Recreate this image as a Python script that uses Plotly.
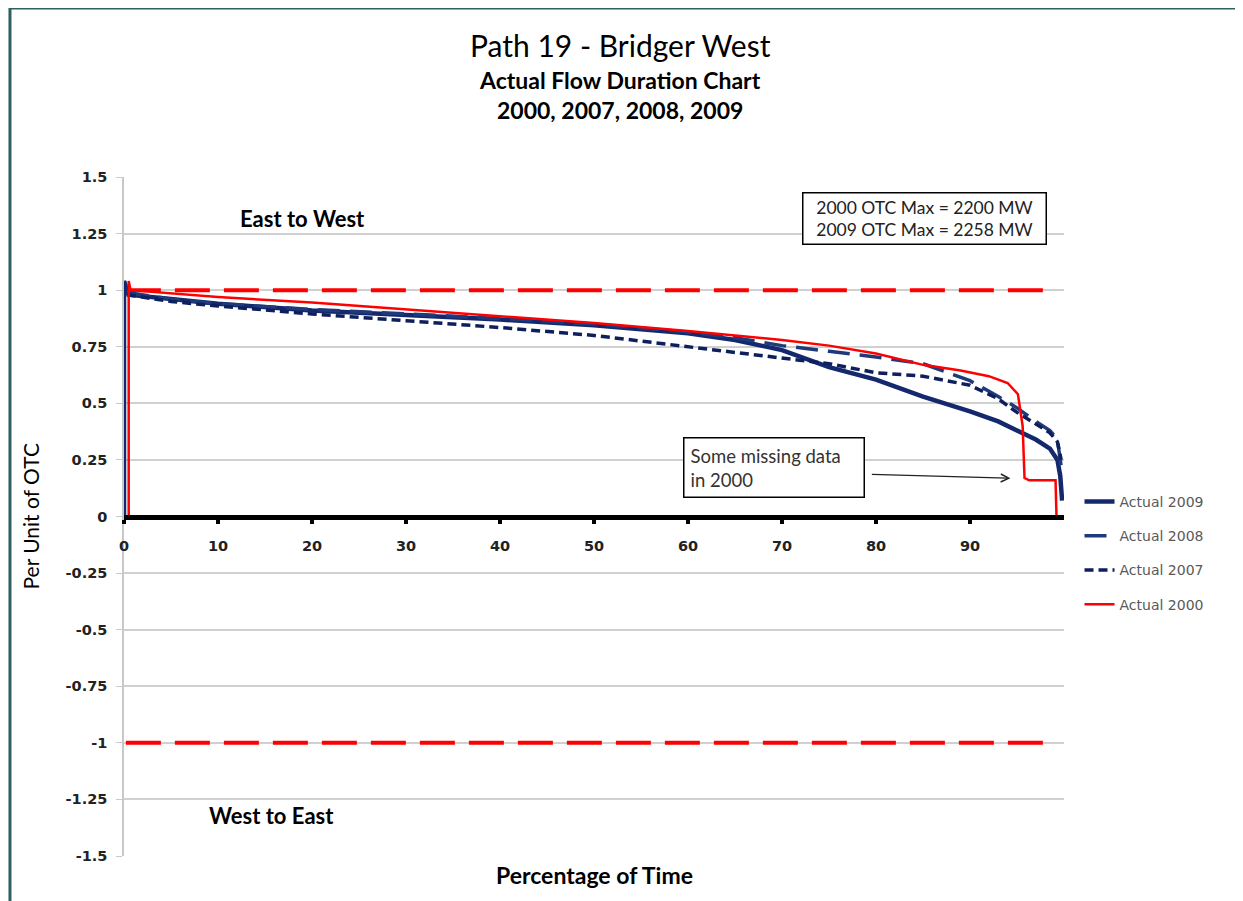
import plotly.graph_objects as go

# percentage of time vs per unit of OTC
x_2009 = [0, 0, 0.5, 5, 10, 20, 30, 40, 50, 60, 65, 70, 75, 80, 85, 90, 93, 95, 97, 98.5, 99.3, 99.6, 99.8]
y_2009 = [0, 1.04, 0.98, 0.96, 0.94, 0.91, 0.89, 0.87, 0.845, 0.81, 0.78, 0.735, 0.66, 0.605, 0.53, 0.465,
          0.42, 0.38, 0.34, 0.30, 0.25, 0.18, 0.07]

x_2008 = [0.3, 5, 10, 20, 30, 40, 50, 60, 65, 70, 75, 80, 85, 90, 93, 95, 97, 98.5, 99.3, 99.7]
y_2008 = [0.99, 0.96, 0.94, 0.915, 0.895, 0.875, 0.85, 0.815, 0.79, 0.755, 0.73, 0.705, 0.675, 0.60,
          0.53, 0.48, 0.42, 0.38, 0.34, 0.22]

x_2007 = [0.3, 5, 10, 20, 30, 40, 50, 60, 65, 70, 75, 80, 85, 90, 93, 95, 97, 98.5, 99.3, 99.7]
y_2007 = [0.98, 0.95, 0.93, 0.895, 0.865, 0.835, 0.80, 0.75, 0.725, 0.70, 0.675, 0.635, 0.62, 0.58,
          0.52, 0.46, 0.41, 0.37, 0.33, 0.25]

x_2000 = [0.5, 0.5, 0.7, 5, 10, 20, 30, 40, 50, 60, 65, 70, 75, 80, 85, 89, 92, 94, 95.1, 95.6,
          95.8, 96.3, 99.1, 99.2]
y_2000 = [0, 1.04, 1.0, 0.985, 0.97, 0.945, 0.915, 0.885, 0.855, 0.82, 0.80, 0.78, 0.755, 0.72, 0.67,
          0.645, 0.62, 0.59, 0.54, 0.40, 0.17, 0.16, 0.16, 0]

limit_x = [0.2, 98]
otc_limits = [1, -1]

y_ticks = [1.5, 1.25, 1, 0.75, 0.5, 0.25, 0, -0.25, -0.5, -0.75, -1, -1.25, -1.5]
y_labels = ["1.5", "1.25", "1", "0.75", "0.5", "0.25", "0", "-0.25", "-0.5", "-0.75", "-1", "-1.25", "-1.5"]
x_ticks = [0, 10, 20, 30, 40, 50, 60, 70, 80, 90]

navy = "#14286E"
red = "#FF0000"
txt = "Lato"
tick_font = dict(family="DejaVu Sans", size=14.5, color="#222", weight="bold")

fig = go.Figure()

# +/- 1 OTC limit lines
for lim in otc_limits:
    fig.add_trace(go.Scatter(x=limit_x, y=[lim, lim], mode="lines", showlegend=False,
                             line=dict(color=red, width=4, dash="35px,14px"), hoverinfo="skip"))

fig.add_trace(go.Scatter(x=x_2009, y=y_2009, mode="lines", name="Actual 2009", legendgroup="a",
                         line=dict(color=navy, width=4.5)))
fig.add_trace(go.Scatter(x=x_2008, y=y_2008, mode="lines", name="Actual 2008", legendgroup="b",
                         line=dict(color="#1F3A7A", width=3.5, dash="22px,10px")))
fig.add_trace(go.Scatter(x=x_2007, y=y_2007, mode="lines", name="Actual 2007", legendgroup="c",
                         line=dict(color="#0D1F5C", width=3.5, dash="9px,5px")))
fig.add_trace(go.Scatter(x=x_2000, y=y_2000, mode="lines", name="Actual 2000", legendgroup="d",
                         line=dict(color=red, width=2.5)))

fig.update_layout(
    width=1235, height=893,
    margin=dict(l=116, r=179, t=169, b=45),
    paper_bgcolor="white", plot_bgcolor="white",
    xaxis=dict(range=[0, 100], tickvals=x_ticks, anchor="free", position=0.5,
               showgrid=False, zeroline=False, showline=True, linecolor="black", linewidth=5,
               ticks="outside", ticklen=4, tickwidth=4, tickcolor="black",
               ticklabelstandoff=10, tickfont=tick_font),
    yaxis=dict(range=[-1.5, 1.5], domain=[0, 1], tickvals=y_ticks, ticktext=y_labels,
               showgrid=True, gridcolor="#D0D0D0", gridwidth=1.5, zeroline=False,
               showline=True, linecolor="#C8C8C8", linewidth=1.5,
               ticks="outside", ticklen=6, tickcolor="#C8C8C8",
               ticklabelstandoff=6, tickfont=tick_font),
    legend=dict(x=1.0165, y=0.545, xanchor="left", yanchor="top", tracegroupgap=13,
                font=dict(family="DejaVu Sans", size=14, color="#595959"), bgcolor="rgba(0,0,0,0)"),
    showlegend=True,
)

# titles
fig.add_annotation(text="Path 19 - Bridger West", xref="paper", yref="paper", x=0.528, y=1.194,
                   yanchor="middle", showarrow=False, font=dict(family=txt, size=30, color="black"))
fig.add_annotation(text="<b>Actual Flow Duration Chart</b>", xref="paper", yref="paper", x=0.528, y=1.143,
                   yanchor="middle", showarrow=False, font=dict(family=txt, size=23, color="black"))
fig.add_annotation(text="<b>2000, 2007, 2008, 2009</b>", xref="paper", yref="paper", x=0.528, y=1.099,
                   yanchor="middle", showarrow=False, font=dict(family=txt, size=23, color="black"))

# axis titles
fig.add_annotation(text="Per Unit of OTC", xref="paper", yref="paper", x=-0.1, y=0.5,
                   xanchor="center", yanchor="middle", textangle=-90, showarrow=False,
                   font=dict(family=txt, size=21, color="black"))
fig.add_annotation(text="<b>Percentage of Time</b>", xref="paper", yref="paper", x=0.5, y=-0.028,
                   yanchor="middle", showarrow=False, font=dict(family=txt, size=23, color="black"))

# direction labels
fig.add_annotation(text="<b>East to West</b>", x=19.0, y=1.318, showarrow=False,
                   font=dict(family=txt, size=22, color="black"))
fig.add_annotation(text="<b>West to East</b>", x=15.7, y=-1.323, showarrow=False,
                   font=dict(family=txt, size=22, color="black"))

# text boxes
fig.add_annotation(text="2000 OTC Max = 2200 MW<br>2009 OTC Max = 2258 MW", x=85.2, y=1.318,
                   showarrow=False, align="center", bordercolor="black", borderwidth=1.5, borderpad=3,
                   bgcolor="white", width=236, font=dict(family=txt, size=17.5, color="#222"))
fig.add_annotation(text="Some missing data<br>in 2000", x=69.2, y=0.2175,
                   showarrow=False, align="left", bordercolor="black", borderwidth=1.5, borderpad=6,
                   bgcolor="white", width=167, font=dict(family=txt, size=18.5, color="#333"))
fig.add_annotation(x=94.3, y=0.169, ax=79.4, ay=0.186, axref="x", ayref="y", text="",
                   showarrow=True, arrowhead=5, arrowsize=1.3, arrowwidth=1.2, arrowcolor="#222")

# outer frame
fig.add_shape(type="rect", xref="paper", yref="paper", x0=-0.1213, x1=1.187, y0=-0.1, y1=1.249,
              line=dict(color="#2E5F63", width=3))

fig.write_html("out.html")
